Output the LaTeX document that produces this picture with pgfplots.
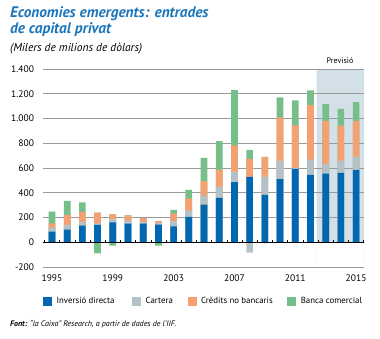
\documentclass[border=0pt]{standalone}
\usepackage{fontspec}
\setmainfont{PT Sans}
\usepackage{pgfplots}
\pgfplotsset{compat=1.18}
\usepackage{pgfplotstable}
\definecolor{cDir}{HTML}{0068B3}
\definecolor{cCart}{HTML}{B3C1C8}
\definecolor{cCred}{HTML}{F4A070}
\definecolor{cBanc}{HTML}{76BF8A}
\definecolor{cShade}{HTML}{D3E0E7}
\definecolor{cTitle}{HTML}{1B75BB}
\definecolor{cGrid}{HTML}{9A9A9A}

\pgfplotstableread{
year dir cart cred banc
1995 86 32 35 95
1996 102 38 81 113
1997 135 29 81 78
1998 140 13 87 -89
1999 161 25 40 -27
2000 151 21 46 0
2001 151 13 30 0
2002 143 13 14 -27
2003 129 43 60 29
2004 206 49 99 70
2005 304 73 116 188
2006 358 89 140 231
2007 485 86 212 447
2008 528 -83 145 73
2009 382 148 159 -8
2010 511 149 350 161
2011 592 8 345 201
2012 544 124 441 119
2013 555 80 345 137
2014 560 100 282 135
2015 584 108 288 153
}\flows

\begin{document}
\begin{tikzpicture}
\path (0pt,0pt) rectangle (380pt,338pt);
\node[anchor=base west, inner sep=0, text=cTitle, font=\fontsize{15.3}{15}\selectfont\bfseries\itshape] at (10pt,320.5pt) {Economies emergents: entrades};
\node[anchor=base west, inner sep=0, text=cTitle, font=\fontsize{15.3}{15}\selectfont\bfseries\itshape] at (10pt,304.5pt) {de capital privat};
\node[anchor=base west, inner sep=0, font=\fontsize{11.5}{12}\selectfont\itshape] at (10pt,286pt) {(Milers de milions de dòlars)};
\node[anchor=base, inner sep=0, font=\fontsize{8}{9}\selectfont] at (340pt,274pt) {Previsió};
\node[anchor=base west, inner sep=0, font=\fontsize{8}{9}\selectfont\itshape] at (10pt,12pt) {\textbf{Font:} “la Caixa” Research, a partir de dades de l’IIF.};

\begin{axis}[
  at={(43pt,71pt)}, anchor=south west,
  scale only axis, width=321pt, height=198pt,
  xmin=1994.41, xmax=2015.52, ymin=-200, ymax=1400,
  axis line style={draw=none},
  major tick length=0pt,
  xtick={1995,1999,2003,2007,2011,2015},
  xticklabels={1995,1999,2003,2007,2011,2015},
  ytick={-200,0,200,400,600,800,1000,1200,1400},
  ymajorgrids,
  grid style={cGrid, line width=0.6pt},
  tick label style={font=\fontsize{9.5}{10}\selectfont},
  /pgf/number format/assume math mode=true,
  yticklabel style={/pgf/number format/1000 sep={.}, xshift=-5.5pt},
  xticklabel style={yshift=-4pt},
  set layers,
  legend columns=4,
  legend cell align=left,
  legend style={at={(axis description cs:0,0)}, anchor=west, yshift=-34pt,
    draw=none, fill=none, inner sep=0pt, font=\fontsize{8.8}{10}\selectfont,
    nodes={inner sep=0pt},
    /tikz/every odd column/.append style={column sep=5pt},
    /tikz/every even column/.append style={column sep=0pt}},
  legend image code/.code={\fill[#1] (0pt,-4pt) rectangle (8pt,4pt);},
]
\addplot[fill=cShade, draw=none, on layer=axis background, forget plot] coordinates {(2012.41,-200) (2012.41,1400) (2015.52,1400) (2015.52,-200)} \closedcycle;

\addplot[ybar, bar width=0.44, bar shift=0pt, fill=cBanc, draw=none, forget plot]
  table[x=year, y expr={\thisrow{dir}+max(\thisrow{cart},0)+max(\thisrow{cred},0)+max(\thisrow{banc},0)}] {\flows};
\addplot[ybar, bar width=0.44, bar shift=0pt, fill=cCred, draw=none, forget plot]
  table[x=year, y expr={\thisrow{dir}+max(\thisrow{cart},0)+max(\thisrow{cred},0)}] {\flows};
\addplot[ybar, bar width=0.44, bar shift=0pt, fill=cCart, draw=none, forget plot]
  table[x=year, y expr={\thisrow{dir}+max(\thisrow{cart},0)}] {\flows};
\addplot[ybar, bar width=0.44, bar shift=0pt, fill=cDir, draw=none, forget plot]
  table[x=year, y=dir] {\flows};
\addplot[ybar, bar width=0.44, bar shift=0pt, fill=cCart, draw=none, forget plot]
  table[x=year, y expr={min(\thisrow{cart},0)}] {\flows};
\addplot[ybar, bar width=0.44, bar shift=0pt, fill=cBanc, draw=none, forget plot]
  table[x=year, y expr={min(\thisrow{banc},0)}] {\flows};

\addplot[black, line width=0.7pt, forget plot] coordinates {(1994.41,0) (2015.52,0)};
\addplot[ycomb, black, line width=0.5pt, mark=none, forget plot] coordinates {
(1994.5,22) (1995.5,22) (1996.5,22) (1997.5,22) (1998.5,22) (1999.5,22) (2000.5,22)
(2001.5,22) (2002.5,22) (2003.5,22) (2004.5,22) (2005.5,22) (2006.5,22) (2007.5,22)
(2008.5,22) (2009.5,22) (2010.5,22) (2011.5,22) (2012.5,22) (2013.5,22) (2014.5,22) (2015.5,22)};

\addlegendimage{cDir}\addlegendentry{\makebox[75.7pt][l]{Inversió directa}}
\addlegendimage{cCart}\addlegendentry{\makebox[42pt][l]{Cartera}}
\addlegendimage{cCred}\addlegendentry{\makebox[86.3pt][l]{Crèdits no bancaris}}
\addlegendimage{cBanc}\addlegendentry{\makebox[64pt][l]{Banca comercial}}
\end{axis}
\end{tikzpicture}
\end{document}
